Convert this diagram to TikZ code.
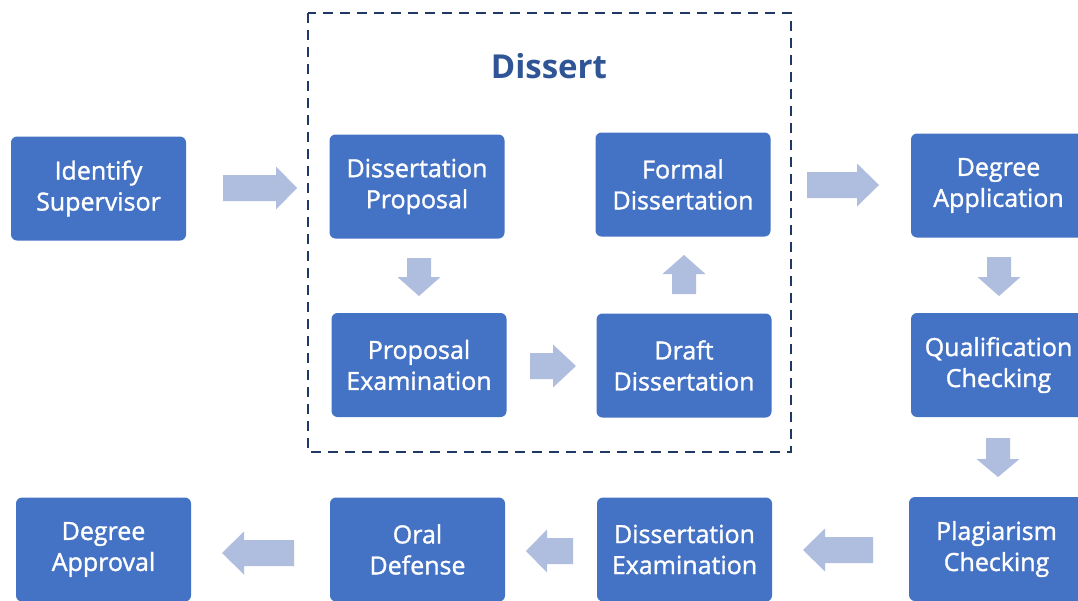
\documentclass[tikz,border=0pt]{standalone}
\usepackage{fontspec}
\setmainfont{Open Sans}
\newfontfamily\boxfont{Open Sans}[FakeBold=1.3]
\definecolor{boxblue}{HTML}{4472C4}
\definecolor{flowblue}{HTML}{AFBDDF}
\definecolor{framenavy}{HTML}{203864}
\definecolor{titleblue}{HTML}{2F5597}
\tikzset{
  stepbox/.style={rectangle, rounded corners=6pt, fill=boxblue, text=white,
    minimum width=175pt, minimum height=104pt, inner sep=0pt, align=center,
    font=\boxfont\fontsize{25}{31}\selectfont},
  flow/.style={fill=flowblue},
  stageframe/.style={draw=framenavy, line width=2.2pt, dash pattern=on 10pt off 7pt},
}
% horizontal block arrow: start x, neck x, tip x, centre y
\newcommand\harrow[4]{\fill[flow] (#1,#4-13) -- (#2,#4-13) -- (#2,#4-21.5) -- (#3,#4) -- (#2,#4+21.5) -- (#2,#4+13) -- (#1,#4+13) -- cycle;}
% vertical block arrow: start y, neck y, tip y, centre x
\newcommand\varrow[4]{\fill[flow] (#4-12,#1) -- (#4-12,#2) -- (#4-21.5,#2) -- (#4,#3) -- (#4+21.5,#2) -- (#4+12,#2) -- (#4+12,#1) -- cycle;}
\begin{document}
\begin{tikzpicture}[x=1pt,y=-1pt]
\clip (0,0) rectangle (1078,600);
\fill[white] (0,0) rectangle (1078,600);

% dissertation stage
\draw[stageframe] (308,13) rectangle (791,452);
\node[text=titleblue, font=\fontsize{33}{38}\selectfont\bfseries] (title) at (549,66) {Dissert};

% process steps
\node[stepbox] (sup)    at (98.5,188.5)  {Identify\\Supervisor};
\node[stepbox] (prop)   at (417,186.5)   {Dissertation\\Proposal};
\node[stepbox] (formal) at (683,184.5)   {Formal\\Dissertation};
\node[stepbox] (pexam)  at (419,365)     {Proposal\\Examination};
\node[stepbox] (draft)  at (684,365.5)   {Draft\\Dissertation};
\node[stepbox] (degapp) at (998.5,185.5) {Degree\\Application};
\node[stepbox] (qual)   at (998.5,365)   {Qualification\\Checking};
\node[stepbox] (plag)   at (996.5,549)   {Plagiarism\\Checking};
\node[stepbox] (dexam)  at (684.5,549.5) {Dissertation\\Examination};
\node[stepbox] (oral)   at (417.5,549.5) {Oral\\Defense};
\node[stepbox] (appr)   at (103.5,549.5) {Degree\\Approval};

% flow arrows
\harrow{223}{276}{297}{188}
\harrow{807}{857}{879}{185}
\harrow{530}{553}{576}{366}
\harrow{873}{825}{803}{550}
\harrow{573}{547}{526}{551}
\harrow{294}{244}{222}{553}
\varrow{257}{277}{296}{999}
\varrow{438}{459}{477}{998}
\varrow{258}{277}{296}{419}
\varrow{294}{274}{255}{684}
\end{tikzpicture}
\end{document}
